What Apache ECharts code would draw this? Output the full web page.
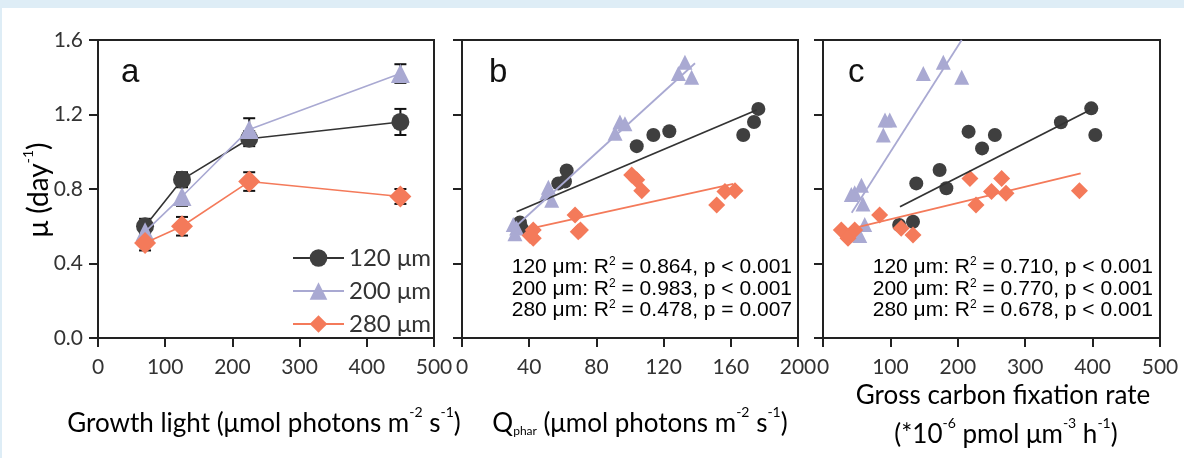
<!DOCTYPE html>
<html><head><meta charset="utf-8">
<script src="https://cdn.jsdelivr.net/npm/echarts@6/dist/echarts.min.js"></script>
<style>
html,body{margin:0;padding:0;background:#deedf6;width:1184px;height:458px;overflow:hidden}
#card{position:absolute;left:2px;top:8px;width:1182px;height:450px;background:#fff}
#chart{position:absolute;left:0;top:0;width:1184px;height:458px}
</style></head><body><div id="card"></div><div id="chart"></div>
<script>
// ---------- data ----------
const sizes = ['120 μm', '200 μm', '280 μm'];
const colors = ['#3f3f3f', '#a9a9d2', '#f47a5a'];
const lineColors = ['#333333', '#a9a9d2', '#f47a5a'];
const symbols = ['circle', 'triangle', 'diamond'];

// panel a: growth light vs mu
const lightLevels = [70, 125, 225, 450];
const muA120 = [0.60, 0.85, 1.07, 1.16];
const errA120 = [0.04, 0.04, 0.04, 0.07];
const muA200 = [0.57, 0.76, 1.12, 1.42];
const errA200 = [0.03, 0.05, 0.06, 0.05];
const muA280 = [0.51, 0.60, 0.84, 0.76];
const errA280 = [0.04, 0.05, 0.05, 0.04];

// panel b: Qphar vs mu
const qB120 = [34.5, 35.5, 33.5, 57.3, 61.3, 62.3, 104, 113.9, 123.4, 167.4, 173.8, 176.4];
const muB120 = [0.62, 0.59, 0.61, 0.83, 0.84, 0.90, 1.03, 1.09, 1.11, 1.09, 1.16, 1.23];
const qB200 = [30.5, 31.5, 32.5, 51.4, 53.4, 50.5, 91.1, 94, 97, 128.8, 132.7, 136.7];
const muB200 = [0.61, 0.56, 0.59, 0.81, 0.74, 0.78, 1.10, 1.16, 1.15, 1.42, 1.48, 1.40];
const qB280 = [42.4, 42.4, 40.5, 67.3, 69.2, 70.5, 101, 104, 107, 151.6, 156.5, 162.5];
const muB280 = [0.58, 0.535, 0.55, 0.66, 0.57, 0.58, 0.875, 0.85, 0.79, 0.714, 0.786, 0.79];
const fitBx = [[32.5, 175.4], [29.6, 138.7], [38.5, 161.5]];
const fitBy = [[0.678, 1.224], [0.58, 1.475], [0.583, 0.827]];

// panel c: gross carbon fixation rate vs mu
const gC120 = [113, 133.5, 138.4, 173, 183, 216, 236, 255, 353, 398, 404];
const muC120 = [0.607, 0.624, 0.83, 0.902, 0.804, 1.108, 1.018, 1.09, 1.158, 1.233, 1.09];
const gC200 = [42, 47, 57, 59.3, 61.9, 54.5, 89.5, 92, 99, 148.8, 178.5, 205.8];
const muC200 = [0.77, 0.78, 0.82, 0.72, 0.61, 0.55, 1.09, 1.17, 1.17, 1.42, 1.48, 1.40];
const gC280 = [27.2, 37.1, 47, 84, 116, 133.5, 218, 227, 250, 265, 271.5, 380.5];
const muC280 = [0.58, 0.535, 0.58, 0.66, 0.589, 0.553, 0.857, 0.714, 0.786, 0.857, 0.777, 0.79];
const fitCx = [[114.2, 396.1], [42.6, 205.8], [30.1, 382.3]];
const fitCy = [[0.705, 1.224], [0.673, 1.6], [0.576, 0.884]];

const statsB = [['0.864', 'p < 0.001'], ['0.983', 'p < 0.001'], ['0.478', 'p = 0.007']];
const statsC = [['0.710', 'p < 0.001'], ['0.770', 'p < 0.001'], ['0.678', 'p < 0.001']];

const yTicks = [0, 0.4, 0.8, 1.2, 1.6];
const xTicksA = [0, 100, 200, 300, 400, 500];
const xTicksB = [0, 40, 80, 120, 160, 200];
const xTicksC = [0, 100, 200, 300, 400, 500];

// ---------- build ----------
const zip = (a, b) => a.map((v, i) => [v, b[i]]);
const muA = [muA120, muA200, muA280];
const errA = [errA120, errA200, errA280];
const ptsB = [zip(qB120, muB120), zip(qB200, muB200), zip(qB280, muB280)];
const ptsC = [zip(gC120, muC120), zip(gC200, muC200), zip(gC280, muC280)];

const tickFont = 'Lato';
const axisCommon = {
  axisLine: { show: true, onZero: false, lineStyle: { color: '#222', width: 2 } },
  axisTick: { show: true, inside: false, length: 9, lineStyle: { color: '#222', width: 2 } },
  splitLine: { show: false }
};
function xAx(idx, ticks) {
  return Object.assign({}, axisCommon, {
    type: 'value', gridIndex: idx, min: ticks[0], max: ticks[ticks.length - 1],
    interval: ticks[1] - ticks[0],
    axisLabel: { show: true, margin: 19, fontFamily: tickFont, fontSize: 21, color: '#333', showMinLabel: true, showMaxLabel: true }
  });
}
function yAx(idx, showLabel) {
  return Object.assign({}, axisCommon, {
    type: 'value', gridIndex: idx, min: yTicks[0], max: yTicks[yTicks.length - 1],
    interval: yTicks[1] - yTicks[0],
    axisLabel: { show: showLabel, margin: 15, fontFamily: tickFont, fontSize: 21, color: '#333', formatter: v => v.toFixed(1) }
  });
}

const series = [];
// panel a lines
for (let s = 0; s < 3; s++) {
  series.push({
    name: sizes[s], type: 'line', xAxisIndex: 0, yAxisIndex: 0,
    data: zip(lightLevels, muA[s]), symbol: symbols[s],
    symbolSize: [18, 19, 22][s],
    lineStyle: { color: lineColors[s], width: 1.6 },
    itemStyle: { color: colors[s] }, z: 3 + s, animation: false
  });
}
// panel a error bars
for (let s = 0; s < 3; s++) {
  series.push({
    type: 'custom', xAxisIndex: 0, yAxisIndex: 0, z: 2, animation: false,
    data: lightLevels.map((x, i) => [x, muA[s][i] - errA[s][i], muA[s][i] + errA[s][i]]),
    encode: { x: 0, y: [1, 2] },
    renderItem: function (params, api) {
      const x = api.value(0);
      const p1 = api.coord([x, api.value(2)]);
      const p2 = api.coord([x, api.value(1)]);
      const w = 6;
      const st = { stroke: '#111', lineWidth: 2 };
      return { type: 'group', children: [
        { type: 'line', shape: { x1: p1[0], y1: p1[1], x2: p2[0], y2: p2[1] }, style: st },
        { type: 'line', shape: { x1: p1[0] - w, y1: p1[1], x2: p1[0] + w, y2: p1[1] }, style: st },
        { type: 'line', shape: { x1: p2[0] - w, y1: p2[1], x2: p2[0] + w, y2: p2[1] }, style: st }
      ] };
    }
  });
}
// panels b, c scatter + fits
const panels = [[1, ptsB, fitBx, fitBy], [2, ptsC, fitCx, fitCy]];
panels.forEach(([gi, pts, fx, fy]) => {
  for (let s = 0; s < 3; s++) {
    series.push({
      name: sizes[s], type: 'scatter', xAxisIndex: gi, yAxisIndex: gi,
      data: pts[s], symbol: symbols[s], symbolSize: [14, 15, 17][s],
      itemStyle: { color: colors[s], opacity: 1 }, z: 3, animation: false
    });
    series.push({
      type: 'line', xAxisIndex: gi, yAxisIndex: gi, data: zip(fx[s], fy[s]),
      symbol: 'none', lineStyle: { color: lineColors[s], width: 1.8 }, z: 4, animation: false, clip: true
    });
  }
});

const supRich = {
  n: { fontFamily: 'Lato', fontSize: 26, color: '#333', lineHeight: 32, verticalAlign: 'bottom' },
  s: { fontFamily: 'Lato', fontSize: 14, color: '#333', lineHeight: 15, verticalAlign: 'top' },
  b: { fontFamily: 'Lato', fontSize: 12, color: '#333', lineHeight: 14, verticalAlign: 'bottom' }
};
const annRich = {
  n: { fontFamily: 'Liberation Sans', fontSize: 21, color: '#333', lineHeight: 22, verticalAlign: 'bottom' },
  s: { fontFamily: 'Liberation Sans', fontSize: 12, color: '#333', lineHeight: 12, verticalAlign: 'top' }
};

const graphics = [];
function addText(x, y, text, rich, align, rot) {
  graphics.push({ type: 'text', x: x, y: y, rotation: rot || 0, z: 10,
    style: { text: text, rich: rich, align: align || 'center', verticalAlign: 'middle' } });
}
// panel letters
[['a', 121], ['b', 489], ['c', 848]].forEach(([t, x]) => {
  graphics.push({ type: 'text', x: x, y: 73, z: 10,
    style: { text: t, fontFamily: 'Liberation Sans', fontSize: 33, fill: '#111', align: 'left', verticalAlign: 'middle' } });
});
// annotations
[[statsB, 792], [statsC, 1153]].forEach(([st, xr]) => {
  st.forEach((r, i) => {
    addText(xr, 267 + i * 21.5, '{n|' + sizes[i] + ': R}{s|2}{n| = ' + r[0] + ', ' + r[1] + '}', annRich, 'right');
  });
});
// axis titles
addText(264, 421, '{n|Growth light (μmol photons m}{s|-2}{n| s}{s|-1}{n|)}', supRich);
addText(640, 421, '{n|Q}{b|phar}{n| (μmol photons m}{s|-2}{n| s}{s|-1}{n|)}', supRich);
addText(1003, 393, '{n|Gross carbon fixation rate}', supRich);
addText(1006, 432, '{n|(*10}{s|-6}{n| pmol μm}{s|-3}{n| h}{s|-1}{n|)}', supRich);
addText(37, 190, '{n|μ (day}{s|-1}{n|)}', { n: Object.assign({}, supRich.n, { fontSize: 28 }), s: supRich.s }, 'center', Math.PI / 2);

const chart = echarts.init(document.getElementById('chart'), null, { renderer: 'canvas' });
chart.setOption({
  backgroundColor: 'transparent',
  animation: false,
  grid: [
    { left: 98, top: 40, width: 336, height: 298, show: true, borderColor: '#222', borderWidth: 2, backgroundColor: 'transparent' },
    { left: 462, top: 40, width: 336, height: 298, show: true, borderColor: '#222', borderWidth: 2, backgroundColor: 'transparent' },
    { left: 823, top: 40, width: 337, height: 298, show: true, borderColor: '#222', borderWidth: 2, backgroundColor: 'transparent' }
  ],
  xAxis: [xAx(0, xTicksA), xAx(1, xTicksB), xAx(2, xTicksC)],
  yAxis: [yAx(0, true), yAx(1, false), yAx(2, false)],
  legend: {
    data: sizes, orient: 'vertical', left: 287, top: 241,
    itemWidth: 51, itemHeight: 22, itemGap: 9,
    textStyle: { fontFamily: 'Lato', fontSize: 24, color: '#333' }, selectedMode: false
  },
  series: series,
  graphic: graphics
});
</script></body></html>
